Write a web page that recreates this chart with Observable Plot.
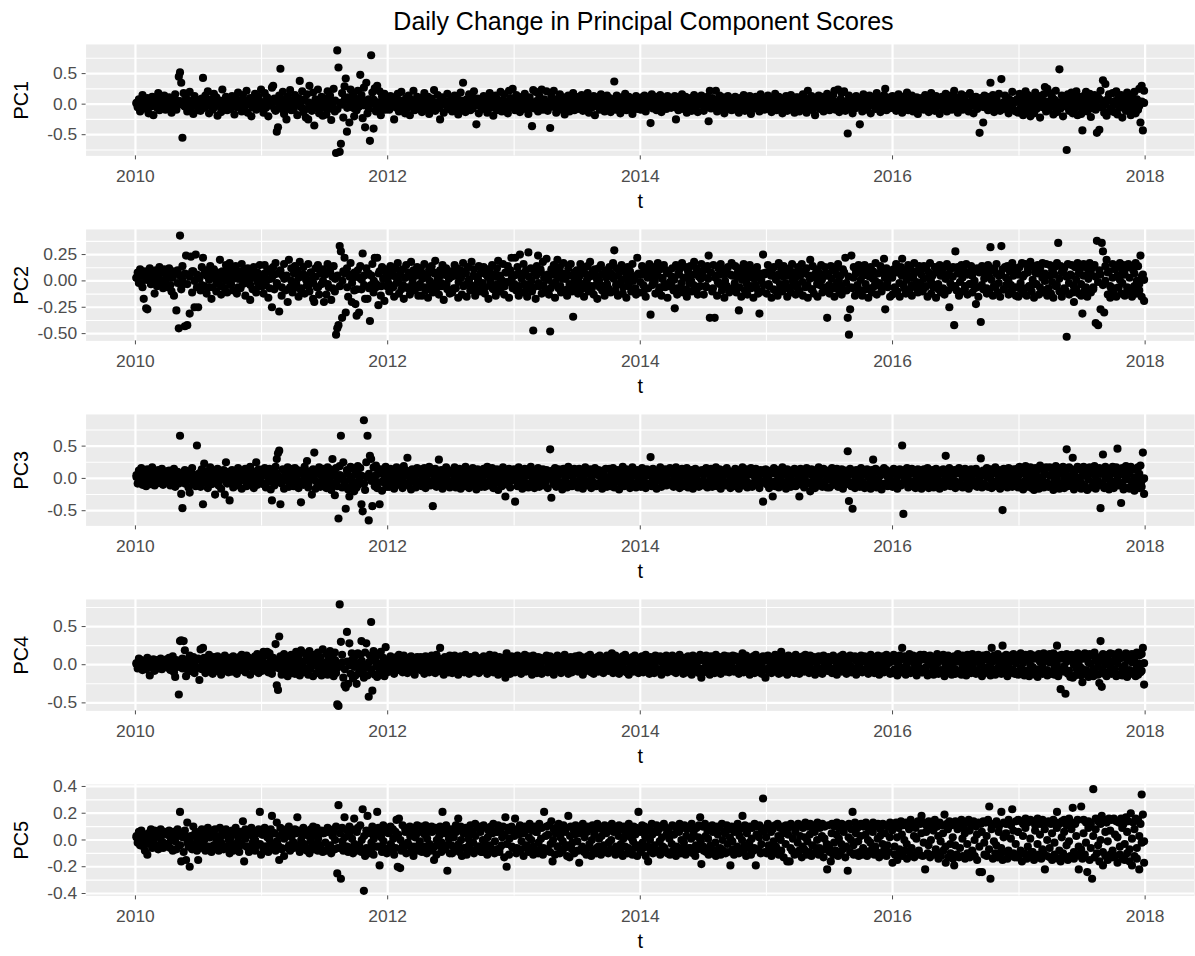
<!DOCTYPE html>
<html><head><meta charset="utf-8">
<script src="https://cdn.jsdelivr.net/npm/d3@7"></script>
<script src="https://cdn.jsdelivr.net/npm/@observablehq/plot@0.6"></script>
<style>
html,body{margin:0;padding:0;background:#fff;overflow:hidden}
#title{height:30px;line-height:30px;padding-top:6px;padding-left:86px;width:1115px;text-align:center;font-size:25px;font-family:"Liberation Sans",Arial,sans-serif;color:#000;white-space:nowrap}
svg{display:block}
</style></head>
<body>
<div id="title">Daily Change in Principal Component Scores</div>
<div id="chart"></div>
<script>
// Daily changes, in hundredths (value × 100).
// pcN: twice-weekly readings incl. outliers; pcNCore: weekly readings inside the dense central band.
const pc1 = [
2,-5,8,-12,4,15,-3,0,-8,10,-15,6,-2,12,-18,3,7,-6,18,-10,1,9,-4,14,-9,5,
-7,11,3,-14,8,-2,16,-9,5,45,52,35,-55,18,-4,10,-12,6,20,-8,2,-16,13,-1,7,-10,
5,-11,9,43,-6,14,-3,21,-15,2,8,-9,17,-4,11,-19,0,6,-13,24,-7,3,12,-10,7,-2,
-8,13,2,-17,9,-5,19,-1,6,-12,15,-7,4,22,-14,1,10,-20,8,-3,17,-9,5,12,-6,24,
3,-14,18,-6,11,-20,7,-2,27,30,9,-11,-45,-38,14,58,-8,20,-16,5,-25,12,-3,23,-10,6,
-9,15,4,-18,10,38,-4,21,-13,7,-22,16,-25,30,1,-11,19,-35,8,-6,24,-15,3,12,-19,9,
6,-17,21,-8,14,-26,3,25,-12,-80,88,60,-78,-65,18,-22,29,42,-45,11,-30,24,-5,16,-20,9,
-10,22,-4,48,15,-23,27,-38,35,-15,8,-60,80,19,-40,26,-12,30,-7,21,-18,13,-3,17,-9,5,
4,-9,13,-3,8,-25,11,-6,17,-12,2,20,-8,6,-15,10,-1,14,-18,7,-4,22,-10,3,12,-7,
-5,10,-13,6,18,-2,-9,12,-16,4,9,-7,23,-11,1,15,-4,-25,8,11,-14,5,-2,17,-8,3,
7,-12,3,14,-6,10,-17,2,19,-9,35,5,-13,8,-3,16,-10,12,-7,21,0,-33,9,-15,6,-4,
-8,13,-2,9,-14,5,18,-6,11,-19,3,14,-10,7,-3,20,-12,6,16,-8,1,-15,22,10,-5,25,
4,-10,15,-5,9,-13,2,12,-8,17,-3,7,-16,11,-1,-36,23,-7,20,5,-12,14,-4,24,-9,8,
-6,21,-11,3,-39,13,-4,22,8,-14,6,-2,16,-9,1,11,-17,5,-7,14,-12,9,-3,18,-10,2,
7,-8,12,-3,15,-11,4,9,-6,18,-14,2,10,-5,13,-18,6,-1,11,-9,16,-4,8,-12,3,14,
-5,10,-13,4,8,37,-9,14,-2,6,-15,11,-7,3,17,-10,1,12,-6,9,-16,5,-3,13,-8,7,
2,-9,11,-4,14,-12,6,-1,9,-31,16,-7,4,12,-10,3,-5,15,-13,8,-2,10,-8,13,-3,6,
-6,9,-2,13,-25,5,-10,11,-4,16,-8,2,12,-14,7,-3,10,-11,4,15,-6,1,-13,9,-1,14,
5,-11,8,-3,12,-28,22,-7,10,-2,6,22,-12,3,14,-9,1,11,-15,7,-5,13,-8,4,-10,9,
-3,12,-9,6,-14,10,2,-6,15,-11,4,8,-4,13,-16,1,9,-7,12,-2,5,-12,16,-5,7,-9,
3,-8,14,-5,10,-13,6,-1,17,-10,2,12,-7,9,-15,4,-3,13,-11,7,-1,15,-9,5,-14,11,
-4,11,-12,5,-7,16,-2,9,-14,22,-6,3,13,-10,6,-18,10,-3,14,-8,1,12,-12,7,-5,17,
6,-10,12,-4,15,22,-9,3,24,-13,8,18,-6,21,-11,5,-48,14,-2,10,-15,7,-7,13,-3,9,
-33,8,-12,16,-5,11,-9,3,14,-15,7,-2,12,-8,18,-4,6,-13,10,-1,15,25,-10,4,-7,11,
-6,13,-2,9,-11,5,16,-8,3,-14,12,-4,7,19,-10,1,-6,14,-12,8,-3,11,-16,6,-1,10,
4,-9,15,-3,10,-13,2,18,-7,6,-11,13,-4,9,-16,5,12,-8,1,17,-12,7,-2,14,-9,3,
22,-5,11,-14,7,-1,16,-9,4,13,-7,2,-12,18,-3,9,-15,6,12,-8,3,-47,10,-4,-30,14,
-2,12,-10,6,35,-6,15,-13,3,9,-4,17,-11,41,1,-8,14,-5,10,-15,7,-2,20,-9,5,-12,
8,-14,17,-6,12,-18,4,21,-10,15,-3,-20,11,6,-15,19,-8,2,13,-22,9,-5,16,28,-12,25,
-9,18,-4,11,-17,7,22,-13,3,57,-7,14,-20,9,-2,-75,16,-11,5,19,-15,10,-6,21,-18,12,
4,-16,-43,13,-8,20,-12,6,17,-21,9,-3,15,-9,-47,11,-42,22,-5,39,-14,33,-19,8,16,-11,
-7,18,-13,5,21,-17,10,-4,15,-22,8,2,-11,19,-6,14,-18,12,-3,20,-15,7,-9,25,-30,30,
-43,22];
const pc1Core = [
1,-3,4,-1,0,5,-4,2,-2,6,-5,3,0,-3,4,1,-6,2,5,-1,-4,3,0,-2,6,-3,
2,-4,5,0,-2,3,-5,6,1,-3,4,-1,-6,2,5,-2,0,3,-4,6,-1,2,-5,4,0,-3,
3,-6,7,-2,1,-8,5,-4,8,0,-7,4,-3,6,-1,2,-5,7,-8,3,0,-4,6,-2,8,-6,
-3,7,-5,1,6,-8,2,-1,8,-6,4,0,-7,5,-3,8,-2,6,-8,1,7,-4,3,-6,5,-1,
2,-5,4,0,-3,6,-1,5,-6,3,-2,1,-4,6,0,-5,3,-1,5,-3,2,-6,4,0,-2,5,
-1,4,-5,2,6,-3,0,-6,3,5,-2,1,-4,6,-1,3,-5,2,0,-3,5,-6,4,-2,1,6,
3,-4,0,5,-2,6,-5,1,-3,4,2,-6,5,-1,0,-4,6,-2,3,-5,1,4,-3,0,5,-6,
-2,5,-4,1,3,-6,6,0,-3,2,-5,4,-1,6,-4,2,0,-6,5,-2,3,-1,4,-5,1,3,
0,-4,3,-2,5,-5,1,4,-3,0,6,-1,-4,2,5,-6,3,-2,1,4,-5,0,6,-3,2,-1,
4,-2,-5,3,1,-4,5,0,-6,2,6,-3,1,-1,4,-5,3,0,-2,5,-4,2,-6,1,3,-3,
-3,5,1,-6,4,0,-2,6,-4,3,-1,2,-5,5,0,-3,6,-2,1,-6,4,-1,3,-4,2,5,
1,-5,4,-2,0,6,-3,3,-6,1,5,-1,-4,4,2,-5,0,6,-2,3,-4,1,-3,5,-1,2,
-4,3,0,6,-5,2,-1,5,-3,4,-6,1,3,-2,6,-4,0,2,-5,5,-1,-3,4,1,-6,3,
2,-1,5,-4,3,-6,0,4,-2,6,-3,1,-5,2,4,-1,-4,6,0,-2,3,-5,5,-3,1,4,
5,-7,2,8,-4,0,-8,6,-3,7,1,-6,4,-2,8,-5,3,-7,0,6,-4,7,-1,-8,5,2,
-6,8,-2,4,-7,6,1,-5,7,-3,0,8,-8,3,-1,6,-6,2,7,-4,5,-7,1,8,-3,4,
2];
const pc2 = [
3,8,-2,11,5,-6,-17,9,-26,-27,6,12,-3,7,1,-12,10,-5,4,13,-1,8,-7,11,2,-4,
-6,12,3,-10,9,-14,7,-28,10,-45,43,-8,14,-3,-43,24,-42,6,-31,23,-11,9,-25,25,-6,-25,
4,-9,13,22,-5,10,-12,7,1,14,-17,-6,11,3,-10,8,-3,20,-13,9,2,-7,15,-11,5,17,
-4,11,-9,6,14,-12,2,9,-7,16,-3,10,-14,5,12,-1,-18,7,-8,13,3,-11,8,-5,15,1,
6,-12,15,-4,9,-16,11,2,-25,13,-8,17,-2,7,-29,10,-14,5,16,-9,3,-20,20,-6,12,-11,
-7,14,-2,10,-15,18,-9,6,13,-12,4,-4,16,-10,8,1,-17,-20,12,-6,15,-13,9,-3,11,-20,
8,-13,16,-6,11,-18,4,14,-10,-51,-45,-42,33,28,-35,9,22,-30,12,-15,6,17,-20,3,-9,-22,
-33,10,-30,14,-8,26,5,-17,12,-17,7,-38,-4,16,-11,22,-6,22,-23,9,-14,13,2,-19,11,-5,
4,-10,14,-5,9,-15,12,-2,17,-12,6,-8,11,-17,3,15,-6,8,-13,18,-3,10,-9,5,13,-14,
-6,12,-14,7,16,-9,3,-16,11,-4,14,-11,8,19,-7,2,-13,10,-2,15,-18,6,12,-8,4,-12,
9,-11,5,15,-7,12,-16,3,10,-13,17,-4,7,-15,13,1,-9,18,-6,11,-14,4,-2,14,-10,8,
-5,13,-12,6,11,-17,9,-3,15,-8,4,-14,12,19,-10,2,-6,16,-13,8,-1,14,-16,10,22,-7,
5,22,-9,13,-14,25,7,-11,16,-3,10,-15,27,-6,12,-10,-47,8,-17,14,24,-5,11,-12,18,3,
-8,21,6,-13,-48,11,-4,15,-16,9,20,-7,13,-11,2,17,-9,6,-14,12,-3,16,-10,-34,8,-6,
10,-12,4,16,-8,13,-15,7,-2,14,-10,18,-5,9,-13,11,3,-17,12,-6,15,-9,6,-14,10,-3,
-7,13,-11,5,17,29,-9,12,-14,8,-3,15,-12,10,2,-16,13,-5,9,-10,16,-8,4,-13,22,7,
6,-11,14,-4,9,-15,12,-7,16,-32,8,-2,13,-12,5,17,-9,11,-14,3,15,-6,10,-16,7,-1,
-4,12,-9,-26,15,-13,7,11,-6,17,-11,3,13,-15,9,-2,14,-10,6,18,-8,12,-13,4,-5,16,
9,-13,11,-6,14,24,-35,8,-10,15,-35,5,-14,12,-3,16,-9,7,-16,11,-5,13,-11,6,17,-8,
-6,14,-11,8,-28,12,-15,5,16,-9,10,-13,3,15,-7,11,-16,9,-4,13,-12,-31,7,-10,25,6,
8,-12,15,-5,10,-16,6,13,-9,4,-14,17,-3,11,-10,14,-7,9,-15,5,12,-11,16,-4,8,-13,
-3,13,-10,7,16,-14,9,-6,12,-16,5,20,-8,14,-12,3,11,-15,8,-4,15,-11,6,13,-9,-35,
7,-12,14,-6,10,-15,12,-3,16,-10,5,-13,11,8,22,-9,-35,-51,-27,24,-7,13,-14,9,-4,15,
-9,12,-14,6,15,-8,11,-16,4,13,-11,9,-5,17,-13,7,-2,14,-10,8,21,-27,12,-6,10,-15,
5,-13,11,-7,16,-10,8,-15,13,21,-4,10,-12,6,15,-9,12,-14,3,17,-6,9,-11,14,-2,11,
-10,14,-6,12,-15,8,17,-12,5,-4,13,-16,10,-8,15,-11,7,12,-13,4,16,-9,-25,11,-6,13,
-42,28,-9,13,-14,7,15,-10,11,-5,16,-13,8,-3,14,-11,10,-7,-22,12,-15,9,-39,14,-8,11,
7,-12,15,-9,32,10,-14,12,-6,16,-11,5,-15,33,11,-8,13,-4,14,-13,9,-10,17,-7,12,-14,
10,-15,13,-8,17,-12,6,16,-14,11,-5,18,-10,14,-16,8,-3,15,-13,12,-9,17,-11,7,16,-14,
-7,15,-12,10,-16,13,-5,17,36,-10,14,-15,8,12,-9,-53,16,-13,6,15,-11,-20,13,-8,17,-12,
11,-14,-31,16,-9,13,-15,8,17,-11,12,-6,15,-40,38,-42,10,-27,36,28,-30,14,20,-13,9,-16,
-8,16,-13,11,-15,14,-6,17,-12,9,15,-14,12,-10,16,-7,13,-15,10,-5,17,-12,14,-9,24,-15,
6,-19];
const pc2Core = [
3,6,-2,8,1,4,-3,7,2,5,-1,9,0,6,-4,3,8,-2,5,1,7,-3,4,9,0,6,
2,-4,7,5,-6,3,8,-1,4,-5,6,0,9,-3,2,7,-6,5,1,-2,8,-4,3,6,-1,4,
-5,7,1,-7,4,6,-3,8,-6,2,5,-8,0,7,-4,3,-7,6,1,-5,8,-2,4,-6,7,0,
6,-3,8,-7,2,5,-5,0,7,-6,4,-2,8,-8,3,1,-4,6,-7,5,0,-3,7,-5,2,8,
-2,5,-6,4,0,7,-4,3,-7,6,1,-5,8,-3,2,-6,5,0,-8,7,-1,4,-5,6,-3,2,
4,-7,6,-1,3,-5,8,0,-4,5,-8,2,7,-2,-6,4,1,-7,6,-3,5,0,-5,8,-1,3,
-3,6,-5,2,7,-8,4,0,-6,5,-2,8,-4,3,1,-7,6,-1,4,-5,7,2,-8,5,-3,0,
5,-2,7,-6,1,4,-7,8,-3,0,6,-5,3,-8,7,2,-4,5,-1,-6,8,-3,4,0,-7,6,
-1,6,-8,3,5,-4,0,7,-6,2,-3,8,-5,4,1,-7,6,-2,3,-8,5,0,-4,7,-6,2,
4,-5,2,8,-7,3,-1,6,-4,0,7,-8,5,-2,4,-6,1,8,-3,6,-5,2,-7,3,0,-4,
7,-3,5,-8,1,6,-5,4,-2,8,-6,0,3,-7,5,-1,7,-4,2,-8,6,-3,4,1,-6,5,
-4,2,-7,6,0,-5,8,-2,4,-6,3,7,-8,1,5,-3,6,-7,2,0,-4,8,-5,3,-1,6,
3,-6,8,-2,5,-7,1,4,-4,7,-1,-8,6,2,-5,3,0,-6,8,-3,5,-7,2,6,-2,4,
-5,7,-1,3,-8,6,-3,5,0,-6,8,-4,2,-7,4,1,-5,7,-2,6,-8,3,0,-4,5,-6,
6,-2,4,-7,8,-5,1,-3,7,-6,3,0,-8,5,-1,6,-4,2,8,-7,4,-2,5,-5,1,7,
-3,5,-6,2,7,-8,4,-1,6,-4,0,8,-5,3,-7,5,1,-2,6,-6,3,-8,7,0,-3,4,
1];
const pc3 = [
5,-8,12,-3,16,-10,2,9,-12,14,-5,7,-9,17,0,-11,10,-4,13,-7,4,15,-10,6,-2,11,
-6,12,-11,8,-3,15,-13,4,10,-8,66,-24,-46,7,13,-5,11,-14,-22,9,16,-7,3,-12,51,6,
8,-13,14,-40,23,-6,11,-15,5,17,-9,2,12,-25,-4,15,-11,9,-16,6,13,-25,25,-8,10,-34,
-7,13,-14,9,4,-11,16,-5,12,-16,7,-2,15,-12,10,-8,18,-4,11,-15,6,25,-10,14,-6,9,
12,-9,16,-14,7,-5,15,-17,-34,10,-11,18,30,39,43,-40,-8,14,-16,11,-3,17,-13,8,-10,15,
-12,16,-7,13,-15,9,-37,12,-10,18,-4,27,-14,11,6,-25,14,40,-16,8,-9,17,-13,5,15,-11,
10,-15,17,-8,14,-18,30,6,-26,16,-12,-62,19,66,-14,25,-9,-47,13,-17,-28,18,-11,15,-20,12,
-14,19,-9,16,-40,-51,90,-18,25,66,-65,35,30,-43,17,-12,20,-15,9,-40,14,-19,12,-7,18,-13,
8,-13,15,-6,11,-16,4,17,-10,13,-3,9,-15,19,-8,12,32,-11,6,-17,14,-5,10,-14,16,-9,
-4,14,-12,9,16,-15,7,-8,18,-11,12,-43,5,15,-13,10,29,-6,13,-16,8,-10,17,-3,11,-14,
12,-10,6,17,-14,9,-5,15,-16,11,3,-12,18,-7,13,-15,8,-2,16,-11,10,-17,14,-6,9,-13,
-9,15,-13,7,18,-11,12,-4,16,-15,9,-7,14,-18,6,11,-12,17,-5,-28,13,-10,15,-14,8,-3,
14,-36,9,-12,17,-7,11,-16,5,15,-10,13,-14,8,18,-6,12,-15,10,-9,16,-13,7,-4,14,-11,
-6,13,-15,10,45,-30,12,-9,16,-13,7,14,-11,9,-17,15,-5,11,-14,18,-8,13,-12,6,15,-10,
9,-14,15,-8,12,-16,6,17,-11,10,-4,14,-15,11,-7,16,-12,8,13,-9,5,-16,12,-6,15,-13,
-8,15,-12,9,16,-14,11,-5,13,-17,8,-10,18,-12,7,14,-9,12,-15,6,17,-11,9,-14,13,-4,
11,-13,16,-7,9,-15,14,-10,8,33,-12,15,-6,12,-16,10,-3,17,-13,8,-9,14,-11,13,-5,16,
-10,14,-13,8,17,-9,12,-15,5,15,-12,10,-7,16,-14,11,-4,13,-16,9,15,-11,7,-13,12,-8,
13,-11,8,16,-14,10,-6,15,-13,12,-9,17,-12,6,14,-16,9,-5,13,-11,16,-8,11,-15,10,-7,
-12,15,-8,11,-16,13,-5,17,-11,9,14,-14,7,-9,16,-13,12,-6,15,-10,8,-15,13,-4,-36,11,
14,-9,12,-15,10,-6,-28,16,-12,8,13,-14,11,-7,17,-11,9,-16,14,-5,12,-13,10,-8,15,-12,
-7,13,-28,15,-10,11,-14,9,16,-8,12,-20,14,-12,7,-15,13,-9,17,-6,10,-13,15,-11,8,-14,
12,-14,9,16,-10,13,-7,15,-13,11,-5,14,-16,8,12,-9,42,-35,15,-12,-47,10,-15,13,-6,11,
-13,16,-8,12,-15,10,14,-11,7,-16,13,29,-9,15,-14,11,-6,12,-17,9,16,-10,13,-12,8,-5,
10,-13,15,-9,12,-16,8,14,-11,51,-55,13,-7,16,-14,10,-4,15,-12,11,-15,9,14,-8,12,-16,
-9,14,-12,11,16,-15,8,-6,13,-14,10,15,-11,7,-16,12,-8,14,-13,35,9,-10,16,-12,11,-7,
13,-15,10,-8,16,-12,11,-14,9,15,-10,12,-16,7,14,-11,13,-6,15,-13,10,-9,31,-14,12,-10,
-11,16,-13,9,14,-15,11,-7,17,-12,8,13,-16,10,-49,15,-9,12,-14,16,-6,11,-13,14,-10,9,
15,-14,18,-9,12,-17,10,19,-13,14,-6,17,-15,11,-18,16,-8,13,-16,20,-11,15,-14,9,17,-12,
-13,17,-10,15,-18,12,19,-14,9,-16,16,-11,18,-15,13,45,-12,17,-8,14,32,-17,11,-13,18,-10,
14,-16,11,18,-12,15,-18,9,17,-14,12,-10,19,-16,13,-11,16,-46,10,37,-15,18,-13,14,-17,11,
-12,18,-15,13,17,46,-11,14,-38,16,-17,12,19,-14,10,-16,18,-12,15,-19,13,-10,17,-15,20,-13,
40,-24];
const pc3Core = [
2,-5,7,-1,4,-6,8,0,-3,5,-7,3,1,-4,6,-2,8,-5,0,4,-8,2,6,-3,5,-1,
-4,6,-2,8,-6,1,5,-8,3,-1,7,-5,4,0,-7,6,-3,2,8,-4,-1,5,-6,3,7,-2,
5,-8,3,6,-4,0,8,-6,2,-3,7,-1,-7,4,1,-5,8,-2,6,-8,3,0,-4,7,-6,2,
-6,4,1,-8,7,-3,5,0,-5,8,-2,3,-7,6,-1,4,-8,2,7,-4,0,5,-6,8,-3,1,
3,-7,6,-2,0,8,-5,4,-8,1,5,-3,7,-6,2,-1,6,-4,8,-7,3,0,-5,4,-2,7,
-5,8,-3,1,6,-6,4,-1,7,-8,2,5,-4,0,8,-7,3,-2,5,-5,6,1,-8,4,-3,7,
4,-2,8,-6,0,5,-8,3,-4,7,1,-7,6,-3,2,8,-5,0,4,-6,7,-1,-8,5,3,-4,
-7,5,0,-3,8,-5,2,6,-8,4,-2,7,-6,1,5,-4,3,-1,8,-7,0,6,-3,4,-8,2,
6,-4,3,-8,5,0,-6,7,-2,4,-7,1,8,-5,-1,6,-3,5,-8,2,7,-6,0,3,-4,8,
-3,7,-8,2,4,-5,6,-1,0,8,-6,3,-4,5,-7,1,7,-2,-5,6,-8,4,2,-3,8,-6,
5,-1,-6,8,-4,3,0,-7,6,-3,2,8,-5,4,-8,1,-2,7,-6,5,0,-4,3,-7,8,-1,
-2,6,-5,4,7,-8,1,-3,5,-6,8,0,-4,3,-7,6,2,-5,8,-1,-6,4,7,-8,3,-2,
7,-5,2,-8,6,-1,4,-4,8,-6,3,0,-7,5,-2,6,-8,1,4,-3,7,-5,2,-6,8,0,
-4,8,-6,3,1,-7,5,-2,7,-5,0,6,-8,2,4,-3,8,-6,1,5,-7,3,-1,6,-4,2,
3,-6,8,-3,5,-8,1,7,-5,2,-1,8,-7,4,6,-4,0,-8,7,-2,5,-6,3,8,-5,1,
-7,4,6,-2,8,-6,3,-4,7,-8,0,5,-3,8,-5,2,6,-7,4,-1,8,-6,1,-3,7,-4,
0];
const pc4 = [
2,-5,8,-3,6,-7,4,1,-6,9,-2,-14,5,-4,7,-8,3,6,-5,2,8,-6,-1,5,-3,7,
-4,9,-7,3,11,-10,-16,6,-3,-39,31,32,8,31,19,-15,5,-9,12,-6,2,10,-11,7,-4,8,
-20,20,-6,22,9,-11,4,-8,13,-3,7,-12,10,-5,2,11,-9,6,-13,8,-2,12,-7,5,-10,9,
4,-9,11,-6,8,-12,3,10,-7,13,-4,6,-10,12,-2,9,-13,5,7,-8,11,-5,14,-11,2,10,
-8,17,-5,12,17,-10,15,7,-12,9,-4,27,-27,-33,37,11,-13,6,14,-9,3,-15,10,-6,13,-11,
8,-12,17,-6,11,-14,19,4,-10,15,-8,12,-13,18,-5,9,-15,13,6,-11,16,-7,10,-14,20,-9,
-10,14,-13,9,18,-8,12,-15,16,-11,-52,-54,79,30,13,-17,-27,-30,43,-25,28,-12,15,-18,10,-14,
-25,15,-11,13,31,-9,-17,16,28,-14,-42,12,56,-34,18,-13,10,-16,14,-8,17,-12,9,-15,23,-10,
6,-9,11,-4,8,-12,3,10,-7,13,-5,7,-10,12,-3,9,-11,5,-8,11,-2,8,-13,6,10,-6,
-5,10,-8,7,-12,11,-3,9,-10,6,12,-7,4,-11,13,-6,8,22,-9,5,-13,10,-4,7,-10,12,
8,-11,6,12,-7,9,-13,4,11,-5,7,-10,13,-3,8,-12,10,-6,5,-9,12,-4,9,-11,6,-8,
-7,11,-5,9,-12,6,13,-8,4,-10,12,-6,8,-13,10,-3,7,-11,9,-17,15,-9,6,-12,11,-4,
9,-10,5,12,-8,7,-12,10,-5,13,-9,4,11,-7,6,-13,12,-4,8,-11,10,-6,9,-12,5,-8,
-6,12,-10,8,11,-9,5,-13,9,-4,12,-7,6,-11,10,-5,13,-8,7,-12,4,10,-10,8,-6,11,
7,-9,12,-6,10,-13,5,9,-8,11,-4,13,-10,6,-12,8,-5,10,-9,12,-7,6,-11,9,-3,12,
-8,10,-6,15,-11,7,12,-9,5,-12,9,-4,11,-7,13,-10,6,-13,8,-5,10,-9,12,-6,7,-11,
9,-7,11,-10,6,13,-8,5,-12,10,-4,8,-11,12,-6,7,-9,11,-13,5,9,-7,12,-10,6,-5,
-6,12,-9,7,-11,10,-5,13,-8,6,-12,9,4,-10,11,-7,8,-13,12,-4,10,-9,6,-11,13,-17,
8,-10,6,12,-7,9,-13,11,-5,7,-11,13,-8,5,10,-12,8,-6,12,-9,4,11,-10,7,-7,12,
-9,11,-6,8,-12,10,-4,15,-10,6,12,-8,9,-13,7,-5,11,-11,13,-7,5,-10,9,-12,11,-6,
-17,8,12,-9,6,-11,10,-5,13,-8,7,-12,9,17,-10,11,-6,8,-13,12,-4,10,-9,6,-11,13,
-7,10,-12,8,-5,11,-9,13,-6,7,-11,12,-8,5,10,-13,9,-4,11,-10,7,-12,12,-6,9,-8,
10,-8,6,-11,12,-6,9,-13,8,-5,11,-9,13,-7,6,-12,10,-4,12,-10,8,-6,11,-13,7,-9,
-8,12,-10,7,11,-7,9,-12,5,13,-9,8,-11,10,-6,12,-13,7,-5,11,-10,9,13,-8,6,-12,
9,-11,13,-8,10,-14,7,12,-10,22,-6,11,-13,9,-7,14,-11,8,12,-9,6,-14,11,-7,13,-10,
-10,13,-7,11,-14,9,12,-11,6,-13,10,-8,14,-12,7,11,-9,13,-15,8,-6,12,-11,10,-13,9,
11,-12,8,14,-9,10,-13,12,-7,9,-14,13,-10,6,-11,14,-8,11,-12,9,13,-10,7,-15,12,-8,
-9,13,-11,10,-14,22,-8,12,-13,9,14,-10,7,-12,25,11,-9,13,-15,8,-11,12,-7,14,-12,10,
12,-13,9,15,-10,11,-14,13,-8,10,-15,14,-11,8,12,-13,10,-16,14,-9,11,-12,15,-10,9,-14,
-11,14,-12,9,15,-13,10,25,-15,12,-32,13,-9,11,-38,14,-12,10,-16,13,-17,12,-14,9,15,-11,
13,-14,-23,11,15,-12,9,-16,14,-10,12,-15,16,-11,10,-13,-24,31,-29,14,-12,11,-15,13,-10,15,
-12,14,-10,13,-15,11,16,-13,9,-14,12,-11,15,-16,10,13,-12,14,-9,11,-15,16,-13,12,-10,14,
22,-26];
const pc4Core = [
1,-2,3,0,-3,2,4,-1,0,-4,3,1,-2,5,-3,0,2,-1,4,-5,1,3,-2,0,4,-3,
-4,5,0,-6,3,-1,6,-5,2,0,-3,5,-2,4,-6,1,3,-4,6,0,-1,5,-5,2,-3,4,
6,-3,1,-6,4,-1,5,-5,0,6,-2,3,-6,2,5,-4,1,-3,6,-5,0,4,-1,3,-6,2,
-2,5,-5,1,6,-4,0,3,-6,4,-1,6,-3,2,-5,5,0,-4,3,-6,6,-2,1,-5,4,-1,
3,-4,5,-1,0,4,-5,2,-2,6,-3,1,-6,4,0,-2,5,-4,3,-1,6,-5,2,0,-3,4,
-3,1,-5,4,2,-6,5,0,-2,3,-4,6,-1,-5,4,1,-3,5,-6,2,0,-4,6,-2,3,-5,
4,-2,6,-4,1,-1,3,-5,5,0,-3,2,-6,6,-1,4,-4,0,5,-2,3,-6,1,4,-5,2,
-1,5,-3,0,4,-6,2,-2,6,-4,3,1,-5,5,-1,0,-4,6,-3,2,-6,4,0,-2,5,-5,
2,-5,4,-3,6,0,-1,5,-6,3,1,-4,4,-2,0,6,-5,2,-3,5,-1,-6,3,1,-4,6,
-5,3,0,6,-2,-4,5,1,-6,4,-1,2,-3,6,-5,0,3,-2,5,-6,1,4,-4,2,-1,5,
6,-4,2,-1,5,-6,0,3,-3,4,-5,1,6,-2,2,-4,5,-1,0,-6,4,3,-5,6,-2,1,
-3,6,-6,2,0,5,-4,1,4,-2,-5,6,-1,3,-6,5,0,-3,2,-4,6,-1,4,-5,1,3,
5,-6,3,-2,7,-4,0,6,-7,2,-1,4,-5,7,-3,1,5,-6,0,3,-7,6,-2,4,-4,1,
-6,4,7,-3,1,-5,5,-1,6,-7,2,0,-4,7,-2,3,-6,5,-3,1,6,-5,0,4,-7,2,
7,-5,2,-8,6,0,-3,8,-6,4,-1,5,-7,3,7,-4,1,-6,8,-2,4,-8,6,0,-5,3,
-4,8,-7,3,1,-6,6,-2,5,-8,0,7,-3,4,-6,2,8,-5,-1,6,-7,3,5,-4,1,-8,
2];
const pc5 = [
3,-2,6,-4,7,1,-5,-8,4,-11,5,-3,8,-6,2,7,-4,5,-7,3,8,-2,-6,6,-5,4,
-3,7,-6,4,-8,6,2,-7,8,-4,21,-16,5,-9,7,-15,13,-5,-20,3,-7,10,-4,6,-8,-15,
5,-6,8,-3,6,-8,4,9,-5,2,-9,7,-4,8,-6,3,-8,9,-2,6,-7,4,8,-5,3,-10,
-4,7,-8,5,9,-6,3,-9,6,-3,14,-16,8,-5,7,-9,4,9,-7,2,-8,6,-4,8,21,-11,
4,-7,9,-5,7,-9,3,8,18,-6,5,-8,13,-4,-15,9,-7,6,-12,4,8,-6,10,-8,5,-3,
-6,8,-4,17,7,-9,5,-7,9,-3,6,-8,4,-10,8,-5,10,-7,3,9,-8,6,-4,7,-9,5,
6,-8,9,-5,7,-10,4,8,-7,10,-25,26,-6,-29,9,-8,17,-5,7,-9,10,-6,8,-10,16,-7,
-8,9,-6,11,-9,23,-38,-12,7,18,-10,6,-7,10,-11,8,-5,21,9,-19,7,-9,11,-6,8,-10,
9,-7,10,-5,8,-11,6,15,-20,16,-21,-8,11,-6,9,-10,7,-4,10,-9,6,-12,9,-5,11,-8,
-7,10,-9,8,-5,11,-10,6,9,-8,10,-6,-15,9,-11,7,-4,10,-9,21,8,-7,11,-23,6,-10,
8,-10,6,-7,11,-5,16,-9,10,-12,7,-6,9,-11,8,-4,11,-8,6,-10,12,-7,9,-5,10,-9,
-9,11,-6,9,-11,7,-5,10,-8,12,-10,6,-7,11,-9,8,-4,10,-13,17,-20,9,-11,7,10,-6,
8,16,-10,6,-8,11,-7,9,-12,10,-5,8,-9,12,-6,7,-11,10,-8,6,-10,12,-7,9,-11,21,
-8,10,-7,11,-9,14,-16,8,-11,9,-5,12,-10,7,-8,11,-6,9,-12,18,-13,10,-7,8,-10,11,
9,-8,-17,10,-7,12,-9,6,-11,10,-6,8,-12,11,-8,7,-10,12,-5,9,-11,8,-7,11,-9,10,
-10,9,-7,12,-8,10,-11,7,-6,11,-9,8,-12,10,-5,9,-10,12,-8,7,-11,10,-6,9,-12,21,
8,-9,11,-6,10,-12,7,-16,9,-8,12,-10,6,-7,11,-9,8,-11,10,-5,12,-8,9,-10,7,-11,
-9,11,-8,10,-12,7,-6,12,-10,9,-7,11,-11,8,-9,10,-6,12,-10,8,-12,9,-7,11,17,-18,
10,-8,12,-9,7,-11,9,-6,11,-10,8,-12,10,-7,9,-11,12,-8,6,-10,11,-9,8,-19,10,-7,
-11,9,-7,12,-10,8,-9,18,-8,11,-12,7,-6,10,-11,9,-8,12,-19,10,-7,11,-10,8,31,-9,
9,-10,12,-7,10,-12,8,-9,11,-6,12,-11,9,-8,10,-13,7,11,-16,9,-16,12,-8,10,-11,8,
-10,12,-8,11,-13,9,-7,13,-11,10,-9,12,-12,8,-10,11,-6,13,-11,9,-8,12,-13,10,-7,-22,
11,-9,-16,12,-11,10,-8,13,-12,9,-10,12,-7,11,-13,10,-23,12,-9,8,21,-11,13,-10,9,-12,
-9,12,-11,10,-8,13,-12,9,-10,11,-7,13,-11,10,-9,12,-13,8,-10,12,-8,11,-12,10,-9,13,
12,-17,10,-11,13,-15,9,-10,14,-12,11,-8,13,-14,10,-9,15,-12,11,-13,9,-10,14,-11,12,18,
-12,13,-22,11,-10,14,-13,9,12,-11,15,-9,10,-14,13,-12,11,-8,19,-17,12,-13,14,-10,11,-14,
-19,14,-11,12,-13,10,15,-12,9,-14,13,-10,15,-13,11,-9,14,-12,10,-15,13,-24,12,-24,14,-11,
13,-12,15,25,-29,11,-14,12,-10,14,-13,10,-11,21,-15,13,-9,12,-14,15,-12,11,23,-10,-13,14,
-13,15,-11,14,-16,12,-10,16,-14,13,-12,15,-9,14,-15,11,-13,16,-11,12,-14,15,-10,-22,13,-12,
14,-13,12,-15,15,-11,13,21,-14,12,-16,14,-10,15,-13,11,-15,16,-12,13,24,-14,12,-11,15,-22,
-12,25,-14,15,-11,13,-24,14,-15,12,-29,38,-13,16,-10,14,-16,12,18,-19,15,-12,13,-15,16,-11,
15,-13,16,-12,14,-17,13,-11,16,-14,12,-15,17,-10,14,-16,20,-19,13,-12,16,-14,15,-22,12,34,
19,-17];
const pc5Core = [
2,-1,3,-3,1,4,-2,0,-4,3,1,-2,5,-3,2,0,-1,4,-4,2,3,-2,0,-3,4,1,
-3,4,0,-5,2,5,-4,1,-2,3,-5,4,0,2,-3,5,-1,-4,3,1,-5,4,-2,0,5,-3,
4,-5,2,0,-3,5,-1,3,-6,1,6,-4,2,-2,5,-5,0,4,-6,3,-1,6,-3,1,-4,5,
-2,6,-4,3,0,-6,5,-1,2,-5,4,1,-3,6,-4,0,3,-6,5,-2,1,4,-5,2,-1,6,
5,-3,1,-6,4,0,-4,6,-2,3,-5,2,5,-1,-6,4,1,-3,6,-5,0,3,-2,5,-4,1,
-4,2,6,-3,0,5,-6,1,4,-2,3,-5,6,0,-3,2,-4,5,-1,6,-6,2,4,-3,1,-5,
3,-6,4,-1,5,-4,2,0,-5,6,-2,1,-6,3,4,-3,0,5,-5,2,-1,6,-4,3,-2,4,
-1,5,-5,2,6,-3,0,4,-6,1,3,-4,5,-2,0,6,-5,3,-3,1,5,-6,2,-1,4,-4,
6,-2,3,-5,0,4,-4,6,-1,2,-6,5,1,-3,4,-5,6,0,-2,3,-6,1,5,-4,2,-1,
-5,3,1,-4,6,-2,4,-6,0,5,-3,2,-1,6,-5,3,0,-4,5,-2,1,-6,4,2,-3,6,
2,-4,6,-1,-5,3,0,5,-3,4,-6,1,6,-2,3,-5,2,-1,4,-4,6,0,-6,3,1,-3,
-6,5,-2,4,1,-3,6,-5,2,0,-4,5,-1,3,-6,4,0,-2,6,-5,1,3,-3,5,-4,2,
7,-5,2,-7,4,0,-3,8,-6,3,1,-8,5,-2,6,-4,0,7,-7,3,-1,5,-5,8,-3,2,
-4,8,-6,1,5,-3,7,-8,0,4,-5,6,-2,3,-7,8,-1,-4,6,-6,2,5,-8,1,7,-3,
6,-8,3,9,-5,1,-9,7,-3,4,-7,8,0,-6,5,-2,9,-8,2,6,-4,-1,8,-9,3,-5,
-7,5,-2,9,-6,3,8,-4,0,-9,6,-1,7,-8,4,2,-5,9,-3,6,-7,1,8,-6,3,-2,
-1];

const panelNames = ["PC1", "PC2", "PC3", "PC4", "PC5"];
const panelValues = [pc1, pc2, pc3, pc4, pc5];
const panelCore = [pc1Core, pc2Core, pc3Core, pc4Core, pc5Core];
const yTicks = [[-0.5, 0, 0.5], [-0.5, -0.25, 0, 0.25], [-0.5, 0, 0.5], [-0.5, 0, 0.5], [-0.4, -0.2, 0, 0.2, 0.4]];
const yMinor = [[-0.75, -0.25, 0.25, 0.75], [-0.375, -0.125, 0.125, 0.375], [-0.75, -0.25, 0.25, 0.75], [-0.25, 0.25, 0.75], [-0.3, -0.1, 0.1, 0.3]];
const yDigits = [1, 2, 1, 1, 1];
const yDomains = [[-0.847, 0.977], [-0.569, 0.488], [-0.735, 0.99], [-0.605, 0.855], [-0.418, 0.415]];
const xTickYears = [2010, 2012, 2014, 2016, 2018];
const xMinorYears = [2011, 2013, 2015, 2017];
const firstDay = "2010-01-04", lastDay = "2017-12-29";

const start = new Date(firstDay + "T00:00:00Z"), end = new Date(lastDay + "T00:00:00Z");
const span = end - start;
// ggplot-style 5% expansion on each side
const xDomain = [new Date(+start - span * 0.05), new Date(+end + span * 0.05)];
const yearDate = y => new Date(Date.UTC(y, 0, 1));
const majorDates = xTickYears.map(yearDate);
const minorDates = xMinorYears.map(yearDate);

function series(vals) {
  const step = span / (vals.length - 1);
  return vals.map((v, i) => ({date: new Date(+start + i * step), v: v / 100}));
}

const font = '"Liberation Sans", Arial, Helvetica, sans-serif';
const chart = document.getElementById("chart");

panelNames.forEach((name, k) => {
  const digits = yDigits[k];
  const pts = series(panelValues[k]).concat(series(panelCore[k]));
  const svg = Plot.plot({
    width: 1201,
    height: 186,
    marginTop: 8,
    marginBottom: 66,
    marginLeft: 86,
    marginRight: 1,
    style: {fontFamily: font, color: "#4D4D4D", background: "white"},
    x: {type: "utc", domain: xDomain, axis: null},
    y: {domain: yDomains[k], axis: null},
    marks: [
      Plot.frame({fill: "#EBEBEB", stroke: "none"}),
      Plot.ruleY(yMinor[k], {stroke: "white", strokeWidth: 1.1}),
      Plot.ruleX(minorDates, {stroke: "white", strokeWidth: 1.1}),
      Plot.ruleY(yTicks[k], {stroke: "white", strokeWidth: 2.2}),
      Plot.ruleX(majorDates, {stroke: "white", strokeWidth: 2.2}),
      Plot.dot(pts, {x: "date", y: "v", r: 4.1, fill: "black", stroke: "none"}),
      Plot.axisX({ticks: majorDates, tickFormat: d3.utcFormat("%Y"), tickSize: 4, tickPadding: 10, fontSize: 17.5, label: null}),
      Plot.axisY({ticks: yTicks[k], tickFormat: d => d.toFixed(digits), tickSize: 4, tickPadding: 5, fontSize: 17.5, label: null}),
      Plot.text([name], {frameAnchor: "left", text: d => d, rotate: -90, dx: -65, fontSize: 20, fill: "black", textAnchor: "middle", lineAnchor: "middle"}),
      Plot.text(["t"], {frameAnchor: "bottom", text: d => d, dy: 46, fontSize: 20, fill: "black", textAnchor: "middle", lineAnchor: "middle"})
    ]
  });
  chart.appendChild(svg);
});
</script>
</body></html>
